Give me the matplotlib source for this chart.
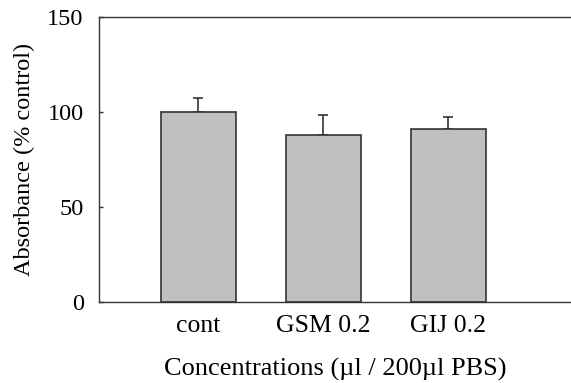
import numpy as np
import matplotlib.pyplot as plt

# -----------------------------
# DATA
# -----------------------------
groups = ["cont", "GSM 0.2", "GIJ 0.2"]
absorbance = [100, 88, 91]
err_upper = [7, 10.4, 6.2]

# -----------------------------
# PLOT
# -----------------------------
plt.rcParams['font.family'] = ['Liberation Serif', 'DejaVu Serif']

fig = plt.figure(figsize=(5.71, 3.83), dpi=100)
ax = fig.add_axes([0.1734, 0.2107, 0.8266, 0.746])

x = np.arange(len(groups))
ax.bar(x, absorbance, width=0.6, color='#c0c0c0', edgecolor='#333333', linewidth=1.2, zorder=2)
ax.errorbar(x, absorbance, yerr=[np.zeros(len(groups)), err_upper], fmt='none',
            ecolor='#333333', elinewidth=1.2, capsize=3.6, capthick=1.2, zorder=1)

ax.set_xlim(-0.794, 2.98)
ax.set_ylim(0, 150)
ax.set_yticks([0, 50, 100, 150])
ax.set_xticks(x)
ax.set_xticklabels(groups)

for side in ['left', 'top', 'bottom']:
    ax.spines[side].set_color('#333333')
    ax.spines[side].set_linewidth(1.0)
ax.spines['right'].set_visible(False)

ax.tick_params(axis='y', direction='in', length=3, width=1, color='#333333', pad=11, labelsize=17.5)
ax.tick_params(axis='x', length=0, pad=9, labelsize=18.5)

ax.set_xlabel("Concentrations (\u00b5l / 200\u00b5l PBS)", fontsize=19, labelpad=15)
ax.set_ylabel("Absorbance (% control)", fontsize=17.5, labelpad=9)

fig.savefig("out.png", dpi=100)
